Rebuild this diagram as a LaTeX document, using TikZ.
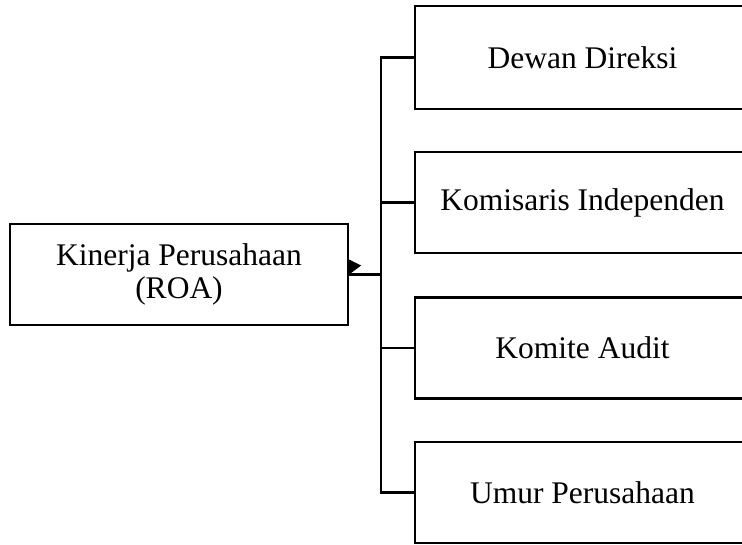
\documentclass[tikz,border=0pt]{standalone}
\usepackage{fontspec}
\setmainfont{Liberation Serif}
\begin{document}
\begin{tikzpicture}[x=1pt,y=-1pt,
  box/.style={draw=black,line width=2.2pt,rectangle,inner sep=0pt,
    minimum width=335pt,minimum height=101pt,align=center,
    font=\fontsize{31.5}{33}\selectfont},
  conn/.style={draw=black,line width=2.2pt}]
\useasboundingbox (0,0) rectangle (742,544);
\node[box,minimum width=338pt] (left) at (179,274.5) {Kinerja Perusahaan\\(ROA)};
\node[box,minimum height=103pt] (b1) at (582.5,57.5) {Dewan Direksi};
\node[box] (b2) at (582.5,202.5) {Komisaris Independen};
\node[box] (b3) at (582.5,348) {Komite Audit};
\node[box] (b4) at (582.5,492.5) {Umur Perusahaan};
\coordinate (t) at (381,274.5);
\draw[conn] (b1.west) -- (b1.west -| t) -- (b4.west -| t) -- (b4.west);
\draw[conn] (b2.west) -- (b2.west -| t);
\draw[conn] (b3.west) -- (b3.west -| t);
\draw[conn] (t) -- (left.east);
\fill[black] (left.east) ++(0,-15) -- ++(12,6) -- ++(-12,9) -- cycle;
\end{tikzpicture}
\end{document}
